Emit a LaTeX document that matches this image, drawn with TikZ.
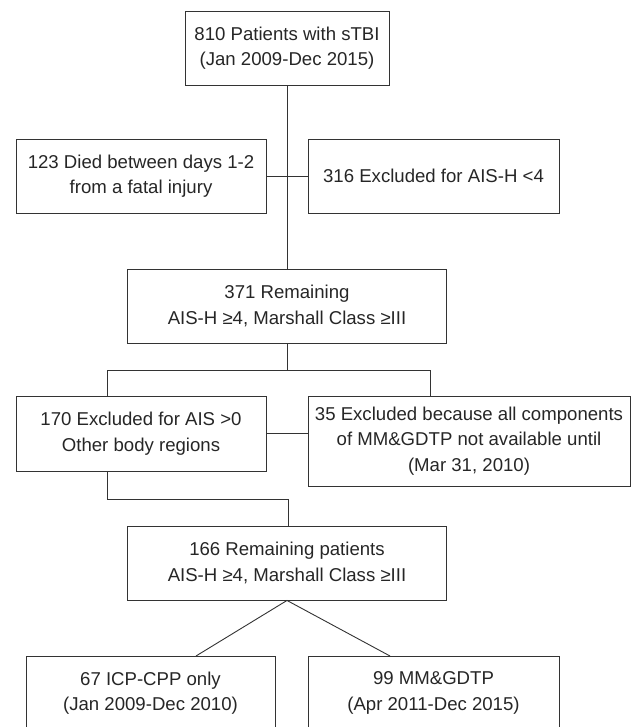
\documentclass[tikz,border=0pt]{standalone}
\usepackage{fontspec}
\setmainfont{Liberation Sans}

\tikzset{box/.style = {draw = black!80, line width = 0.9pt, text = black!85, align = center,
  inner sep = 0pt, minimum height = 74, font = \fontsize{18.6}{25.5}\selectfont}}

\begin{document}
\begin{tikzpicture}[x = 1pt, y = -1pt, line width = 0.9pt, draw = black!80]
\useasboundingbox (0,0) rectangle (631,727);
\node[box, minimum width = 204] (a1) at (287,48) {810 Patients with sTBI\\(Jan 2009-Dec 2015)};
\node[box, minimum width = 250] (b1) at (141,176) {123 Died between days 1-2\\from a fatal injury};
\node[box, minimum width = 251] (b2) at (433.5,176) {316 Excluded for AIS-H <4};
\node[box, minimum width = 319] (c1) at (287,306) {371 Remaining\\AIS-H ≥4, Marshall Class ≥III};
\node[box, minimum width = 250, minimum height = 75] (d1) at (141,433.5) {170 Excluded for AIS >0\\Other body regions};
\node[box, minimum width = 322, minimum height = 90] (d2) at (469,441) {35 Excluded because all components\\of MM\&GDTP not available until\\(Mar 31, 2010)};
\node[box, minimum width = 319] (e1) at (287,563) {166 Remaining patients\\AIS-H ≥4, Marshall Class ≥III};
\node[box, minimum width = 249] (f1) at (150.5,693) {67 ICP-CPP only\\(Jan 2009-Dec 2010)};
\node[box, minimum width = 251] (f2) at (433.5,693) {99 MM\&GDTP\\(Apr 2011-Dec 2015)};
\coordinate (j1) at (107,370);
\coordinate (j2) at (430,370);
\coordinate (j3) at (288,499);
\coordinate (j4) at (196,656);
\coordinate (j5) at (390,656);
\draw (a1.south) -- (c1.north);
\draw (b1.east) -- (b2.west);
\draw (c1.south) -- (c1.south |- j1);
\draw (j1 |- d1.north) -- (j1) -- (j2) -- (j2 |- d2.north);
\draw (d1.east) -- (d1.east -| d2.west);
\draw (j1 |- d1.south) |- (j3) -- (j3 |- e1.north);
\draw (j4) -- (e1.south) -- (j5);
\end{tikzpicture}
\end{document}
